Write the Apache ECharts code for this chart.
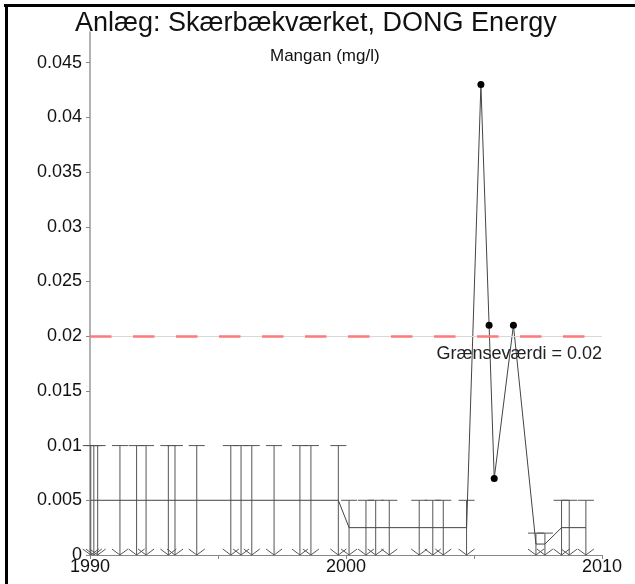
<html>
<head>
<meta charset="utf-8">
<title>Mangan</title>
<script src="https://cdn.jsdelivr.net/npm/echarts@6/dist/echarts.min.js"></script>
<style>
  body { margin: 0; background: #fff; }
  #main { width: 635px; height: 584px; }
</style>
</head>
<body>
<div id="main"></div>
<script type="text/javascript">
// sample dates (decimal years), plotted value, detection limit (null = measured value)
var years = [1990.03, 1990.15, 1990.3, 1991.17, 1991.82, 1992.19, 1993.06, 1993.32, 1994.17,
             1995.5, 1995.9, 1996.32, 1997.19, 1998.2, 1998.63, 1999.7,
             2000.12, 2000.78, 2001.16, 2001.69, 2002.86, 2003.39, 2003.8, 2004.71,
             2005.27, 2005.59, 2005.79, 2006.54,
             2007.42, 2007.77, 2008.42, 2008.72, 2009.37];
var values = [0.005, 0.005, 0.005, 0.005, 0.005, 0.005, 0.005, 0.005, 0.005,
              0.005, 0.005, 0.005, 0.005, 0.005, 0.005, 0.005,
              0.0025, 0.0025, 0.0025, 0.0025, 0.0025, 0.0025, 0.0025, 0.0025,
              0.043, 0.021, 0.007, 0.021,
              0.001, 0.001, 0.0025, 0.0025, 0.0025];
var detectionLimits = [0.01, 0.01, 0.01, 0.01, 0.01, 0.01, 0.01, 0.01, 0.01,
                       0.01, 0.01, 0.01, 0.01, 0.01, 0.01, 0.01,
                       0.005, 0.005, 0.005, 0.005, 0.005, 0.005, 0.005, 0.005,
                       null, null, null, null,
                       0.002, 0.002, 0.005, 0.005, 0.005];
var limitValue = 0.02;
var yTicks = [0, 0.005, 0.01, 0.015, 0.02, 0.025, 0.03, 0.035, 0.04, 0.045];
var xTicks = [1990, 1995, 2000, 2005, 2010];
var xLabels = [1990, 2000, 2010];

var myChart = echarts.init(document.getElementById('main'));

var lineData = [];
var barData = [];
for (var i = 0; i < years.length; i++) {
    var isMeasured = detectionLimits[i] === null;
    lineData.push({ value: [years[i], values[i]], symbol: isMeasured ? 'circle' : 'none' });
    if (!isMeasured) barData.push([years[i], detectionLimits[i]]);
}

// vertical bar from detection limit down to zero, cap on top, arrow at bottom
function renderLimit(params, api) {
    var top = api.coord([api.value(0), api.value(1)]);
    var bot = api.coord([api.value(0), 0]);
    var st = { stroke: '#555', lineWidth: 1, fill: null };
    return {
        type: 'group',
        children: [
            { type: 'line', shape: { x1: top[0], y1: top[1], x2: bot[0], y2: bot[1] }, style: st },
            { type: 'line', shape: { x1: top[0] - 8, y1: top[1], x2: top[0] + 8, y2: top[1] }, style: st },
            { type: 'polyline', shape: { points: [[bot[0] - 8, bot[1] - 6], [bot[0], bot[1]], [bot[0] + 8, bot[1] - 6]] }, style: st }
        ]
    };
}

var option = {
    animation: false,
    textStyle: { fontFamily: 'Arial, "Liberation Sans", sans-serif' },
    title: [
        { text: 'Anlæg: Skærbækværket, DONG Energy', left: 70, top: 5,
          textStyle: { fontSize: 27, fontWeight: 'normal', color: '#111' } },
        { text: 'Mangan (mg/l)', left: 265, top: 43,
          textStyle: { fontSize: 17, fontWeight: 'normal', color: '#111' } }
    ],
    graphic: [
        { type: 'rect', shape: { x: 4, y: 4, width: 631, height: 3 }, style: { fill: '#000' } },
        { type: 'rect', shape: { x: 5, y: 4, width: 3, height: 580 }, style: { fill: '#000' } }
    ],
    grid: { left: 90, right: 33, top: 32, bottom: 29 },
    xAxis: {
        type: 'value', min: 1990, max: 2010,
        axisLine: { lineStyle: { color: '#888' } },
        axisTick: { length: 4, customValues: xTicks, lineStyle: { color: '#888' } },
        axisLabel: { customValues: xLabels, margin: 3, fontSize: 18, color: '#111',
                     formatter: function (v) { return String(v); } },
        splitLine: { show: false }
    },
    yAxis: {
        type: 'value', min: 0, max: 0.0478,
        axisLine: { show: true, lineStyle: { color: '#999', width: 1.5 } },
        axisTick: { show: true, length: 4, customValues: yTicks, lineStyle: { color: '#888' } },
        axisLabel: { customValues: yTicks, margin: 8, fontSize: 18, color: '#111' },
        splitLine: { show: false }
    },
    series: [
        {
            type: 'custom',
            renderItem: renderLimit,
            data: barData,
            encode: { x: 0, y: 1 },
            silent: true,
            z: 2
        },
        {
            type: 'line',
            data: lineData,
            symbolSize: 7,
            lineStyle: { color: '#444', width: 1 },
            itemStyle: { color: '#000' },
            z: 3,
            markLine: {
                silent: true,
                symbol: 'none',
                data: [
                    { yAxis: limitValue, lineStyle: { color: '#d8d8d8', type: 'solid', width: 1 }, label: { show: false } },
                    { yAxis: limitValue, lineStyle: { color: '#ff7a7a', type: [21.5, 21.5], width: 2.5 },
                      label: { show: true, position: 'insideEndBottom', distance: [0, 9], formatter: 'Grænseværdi = 0.02',
                               fontSize: 18, color: '#222' } }
                ]
            }
        }
    ]
};

myChart.setOption(option);
</script>
</body>
</html>
